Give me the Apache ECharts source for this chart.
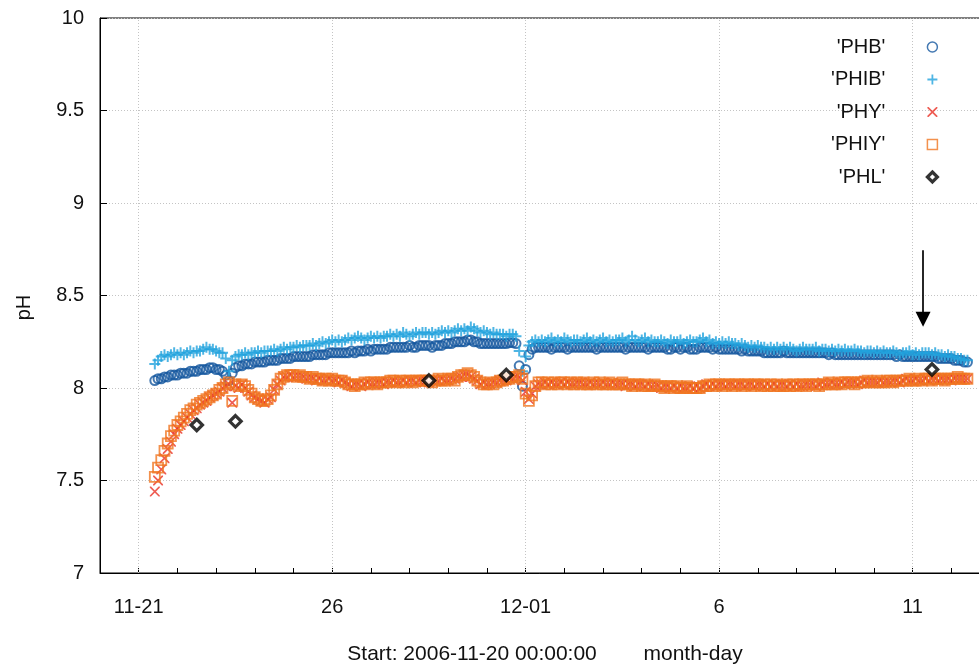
<!DOCTYPE html>
<html>
<head>
<meta charset="utf-8">
<script src="https://cdn.jsdelivr.net/npm/echarts@6/dist/echarts.min.js"></script>
<style>
  html, body { margin: 0; padding: 0; background: #fff; }
  #chart { width: 979px; height: 666px; }
</style>
</head>
<body>
<div id="chart"></div>
<script>
// pH readings, one every 2 hours starting 2006-11-21 10:00
// (x axis = days after 2006-11-20 00:00); one row per day
const SAMPLE_START_DAY = 1 + 10 / 24;
const SAMPLE_STEP_DAY = 1 / 12;

const phb = [
  8.04, 8.05, 8.05, 8.06, 8.06, 8.07, 8.07, 8.07, 8.08, 8.08, 8.08, 8.09,
  8.09, 8.09, 8.10, 8.10, 8.10, 8.11, 8.11, 8.10, 8.10, 8.09, 8.07, 8.04,
  8.08, 8.11, 8.12, 8.12, 8.13, 8.13, 8.13, 8.14, 8.14, 8.14, 8.14, 8.15,
  8.15, 8.15, 8.15, 8.16, 8.16, 8.16, 8.16, 8.17, 8.17, 8.17, 8.17, 8.17,
  8.17, 8.18, 8.18, 8.18, 8.18, 8.18, 8.19, 8.19, 8.19, 8.19, 8.19, 8.19,
  8.19, 8.20, 8.19, 8.20, 8.20, 8.20, 8.21, 8.20, 8.21, 8.21, 8.21, 8.21,
  8.21, 8.22, 8.22, 8.22, 8.22, 8.22, 8.22, 8.23, 8.22, 8.22, 8.23, 8.23,
  8.23, 8.23, 8.22, 8.23, 8.23, 8.23, 8.24, 8.24, 8.24, 8.25, 8.25, 8.25,
  8.25, 8.26, 8.26, 8.25, 8.25, 8.24, 8.24, 8.24, 8.24, 8.24, 8.24, 8.24,
  8.24, 8.24, 8.245, 8.245, 8.24, 8.12, 8.01, 8.10, 8.18, 8.21, 8.22, 8.22,
  8.22, 8.22, 8.22, 8.21, 8.22, 8.22, 8.22, 8.22, 8.21, 8.22, 8.22, 8.22,
  8.22, 8.22, 8.22, 8.22, 8.22, 8.21, 8.22, 8.22, 8.22, 8.22, 8.22, 8.22,
  8.22, 8.22, 8.21, 8.22, 8.22, 8.22, 8.22, 8.22, 8.22, 8.21, 8.22, 8.22,
  8.22, 8.22, 8.22, 8.21, 8.21, 8.22, 8.22, 8.21, 8.22, 8.22, 8.21, 8.21,
  8.21, 8.22, 8.22, 8.22, 8.22, 8.21, 8.22, 8.21, 8.21, 8.21, 8.21, 8.21,
  8.21, 8.21, 8.20, 8.21, 8.20, 8.20, 8.20, 8.20, 8.20, 8.19, 8.19, 8.19,
  8.19, 8.19, 8.19, 8.20, 8.19, 8.19, 8.19, 8.19, 8.19, 8.19, 8.19, 8.19,
  8.19, 8.19, 8.19, 8.19, 8.19, 8.18, 8.19, 8.18, 8.18, 8.18, 8.18, 8.18,
  8.18, 8.18, 8.18, 8.18, 8.18, 8.18, 8.18, 8.18, 8.18, 8.18, 8.18, 8.18,
  8.18, 8.18, 8.17, 8.18, 8.17, 8.17, 8.17, 8.17, 8.17, 8.17, 8.17, 8.17,
  8.17, 8.17, 8.17, 8.16, 8.16, 8.16, 8.16, 8.16, 8.15, 8.15, 8.15, 8.14,
  8.14
];

const phib = [
  8.13, 8.15, 8.17, 8.18, 8.17, 8.18, 8.19, 8.18, 8.19, 8.18, 8.19, 8.20,
  8.19, 8.20, 8.20, 8.21, 8.22, 8.21, 8.21, 8.20, 8.19, 8.19, 8.16, 8.09,
  8.15, 8.17, 8.18, 8.18, 8.19, 8.18, 8.19, 8.19, 8.20, 8.19, 8.20, 8.20,
  8.20, 8.21, 8.20, 8.21, 8.22, 8.21, 8.22, 8.22, 8.23, 8.22, 8.23, 8.23,
  8.23, 8.24, 8.23, 8.24, 8.25, 8.24, 8.25, 8.26, 8.25, 8.26, 8.25, 8.26,
  8.27, 8.26, 8.27, 8.28, 8.27, 8.26, 8.27, 8.28, 8.27, 8.28, 8.27, 8.28,
  8.28, 8.29, 8.28, 8.29, 8.28, 8.30, 8.29, 8.28, 8.29, 8.30, 8.29, 8.30,
  8.30, 8.29, 8.30, 8.29, 8.30, 8.31, 8.30, 8.31, 8.30, 8.31, 8.32, 8.31,
  8.32, 8.31, 8.33, 8.32, 8.31, 8.30, 8.31, 8.30, 8.29, 8.30, 8.29, 8.29,
  8.29, 8.28, 8.29, 8.29, 8.28, 8.20, 8.09, 8.17, 8.23, 8.25, 8.26, 8.25,
  8.26, 8.25, 8.26, 8.27, 8.25, 8.26, 8.25, 8.27, 8.26, 8.25, 8.26, 8.26,
  8.25, 8.26, 8.27, 8.25, 8.26, 8.25, 8.26, 8.27, 8.25, 8.26, 8.25, 8.26,
  8.26, 8.27, 8.25, 8.26, 8.28, 8.26, 8.25, 8.26, 8.27, 8.25, 8.26, 8.25,
  8.25, 8.26, 8.25, 8.24, 8.26, 8.25, 8.25, 8.26, 8.24, 8.25, 8.26, 8.25,
  8.25, 8.26, 8.27, 8.25, 8.26, 8.24, 8.25, 8.24, 8.25, 8.24, 8.25, 8.24,
  8.24, 8.23, 8.24, 8.23, 8.22, 8.23, 8.22, 8.23, 8.22, 8.22, 8.21, 8.22,
  8.21, 8.22, 8.21, 8.22, 8.21, 8.22, 8.21, 8.20, 8.21, 8.22, 8.21, 8.21,
  8.21, 8.22, 8.20, 8.21, 8.21, 8.20, 8.21, 8.20, 8.21, 8.20, 8.21, 8.20,
  8.20, 8.21, 8.20, 8.20, 8.19, 8.20, 8.20, 8.19, 8.20, 8.19, 8.20, 8.19,
  8.19, 8.20, 8.19, 8.18, 8.19, 8.19, 8.20, 8.18, 8.19, 8.18, 8.19, 8.19,
  8.19, 8.18, 8.19, 8.18, 8.18, 8.17, 8.18, 8.17, 8.17, 8.16, 8.16, 8.15,
  8.15
];

const phy = [
  7.44, 7.50, 7.56, 7.62, 7.67, 7.71, 7.75, 7.78, 7.80, 7.82, 7.84, 7.86,
  7.88, 7.89, 7.91, 7.92, 7.93, 7.95, 7.96, 7.97, 7.98, 8.00, 8.01, 8.02,
  7.92, 8.01, 8.00, 8.02, 8.00, 7.98, 7.96, 7.95, 7.94, 7.93, 7.92, 7.94,
  7.95, 7.99, 8.02, 8.04, 8.06, 8.06, 8.07, 8.06, 8.06, 8.06, 8.06, 8.05,
  8.05, 8.05, 8.04, 8.05, 8.04, 8.04, 8.05, 8.04, 8.04, 8.03, 8.04, 8.03,
  8.02, 8.01, 8.02, 8.02, 8.01, 8.02, 8.03, 8.02, 8.02, 8.03, 8.03, 8.02,
  8.03, 8.03, 8.04, 8.03, 8.03, 8.04, 8.03, 8.04, 8.04, 8.03, 8.04, 8.04,
  8.04, 8.03, 8.04, 8.04, 8.04, 8.05, 8.04, 8.04, 8.05, 8.05, 8.06, 8.06,
  8.07, 8.07, 8.06, 8.05, 8.04, 8.02, 8.03, 8.02, 8.02, 8.03, 8.03, 8.04,
  8.04, 8.04, 8.05, 8.05, 8.06, 8.06, 8.04, 7.98, 7.94, 7.97, 8.01, 8.02,
  8.02, 8.03, 8.02, 8.03, 8.02, 8.02, 8.03, 8.02, 8.03, 8.02, 8.02, 8.03,
  8.03, 8.02, 8.02, 8.03, 8.02, 8.02, 8.02, 8.03, 8.02, 8.02, 8.03, 8.02,
  8.02, 8.02, 8.01, 8.02, 8.02, 8.01, 8.02, 8.02, 8.01, 8.02, 8.01, 8.01,
  8.01, 8.00, 8.01, 8.01, 8.00, 8.01, 8.00, 8.01, 8.00, 8.00, 8.01, 8.00,
  8.01, 8.00, 8.01, 8.02, 8.01, 8.02, 8.01, 8.02, 8.02, 8.01, 8.02, 8.02,
  8.01, 8.02, 8.02, 8.01, 8.02, 8.02, 8.01, 8.02, 8.02, 8.01, 8.02, 8.01,
  8.02, 8.01, 8.02, 8.02, 8.01, 8.02, 8.01, 8.02, 8.01, 8.01, 8.02, 8.02,
  8.02, 8.01, 8.02, 8.03, 8.02, 8.02, 8.03, 8.02, 8.02, 8.03, 8.02, 8.03,
  8.03, 8.03, 8.02, 8.03, 8.04, 8.03, 8.03, 8.03, 8.03, 8.04, 8.03, 8.03,
  8.03, 8.04, 8.04, 8.03, 8.04, 8.05, 8.04, 8.04, 8.05, 8.04, 8.04, 8.05,
  8.04, 8.05, 8.05, 8.04, 8.05, 8.05, 8.05, 8.04, 8.05, 8.05, 8.05, 8.05,
  8.05
];

const phiy = [
  7.52, 7.57, 7.61, 7.66, 7.70, 7.74, 7.77, 7.80, 7.82, 7.84, 7.86, 7.88,
  7.89, 7.91, 7.92, 7.93, 7.94, 7.95, 7.96, 7.97, 7.99, 8.00, 8.02, 8.03,
  7.93, 8.02, 8.01, 8.02, 8.01, 7.99, 7.97, 7.95, 7.94, 7.93, 7.93, 7.94,
  7.96, 7.99, 8.02, 8.05, 8.06, 8.07, 8.07, 8.07, 8.06, 8.07, 8.06, 8.06,
  8.05, 8.06, 8.05, 8.05, 8.04, 8.05, 8.04, 8.05, 8.04, 8.04, 8.04, 8.03,
  8.02, 8.02, 8.01, 8.02, 8.02, 8.03, 8.02, 8.03, 8.03, 8.02, 8.03, 8.03,
  8.03, 8.04, 8.04, 8.03, 8.04, 8.03, 8.04, 8.04, 8.03, 8.04, 8.04, 8.04,
  8.04, 8.04, 8.03, 8.04, 8.05, 8.04, 8.04, 8.05, 8.05, 8.04, 8.06, 8.07,
  8.07, 8.08, 8.07, 8.06, 8.04, 8.03, 8.02, 8.02, 8.03, 8.02, 8.03, 8.04,
  8.04, 8.05, 8.05, 8.06, 8.06, 8.07, 8.05, 7.97, 7.93, 7.96, 8.01, 8.03,
  8.03, 8.02, 8.03, 8.02, 8.03, 8.02, 8.03, 8.03, 8.02, 8.03, 8.02, 8.03,
  8.02, 8.03, 8.02, 8.02, 8.03, 8.02, 8.03, 8.02, 8.02, 8.03, 8.02, 8.02,
  8.02, 8.03, 8.02, 8.02, 8.01, 8.02, 8.02, 8.01, 8.02, 8.01, 8.01, 8.02,
  8.01, 8.01, 8.00, 8.01, 8.01, 8.00, 8.01, 8.00, 8.00, 8.01, 8.00, 8.00,
  8.00, 8.00, 8.01, 8.01, 8.02, 8.01, 8.02, 8.02, 8.01, 8.02, 8.02, 8.01,
  8.02, 8.02, 8.01, 8.02, 8.02, 8.01, 8.02, 8.02, 8.01, 8.02, 8.01, 8.02,
  8.01, 8.02, 8.01, 8.01, 8.02, 8.01, 8.02, 8.01, 8.02, 8.02, 8.01, 8.02,
  8.02, 8.02, 8.01, 8.02, 8.02, 8.03, 8.02, 8.02, 8.03, 8.02, 8.03, 8.03,
  8.03, 8.02, 8.03, 8.03, 8.03, 8.04, 8.03, 8.03, 8.04, 8.03, 8.03, 8.04,
  8.04, 8.03, 8.04, 8.04, 8.04, 8.04, 8.05, 8.04, 8.04, 8.05, 8.04, 8.05,
  8.05, 8.04, 8.05, 8.05, 8.05, 8.04, 8.05, 8.05, 8.05, 8.06, 8.05, 8.05,
  8.05
];

// Lab reference measurements (taken at noon)
const phlDays = [2.5, 3.5, 8.5, 10.5, 21.5];
const phl = [7.80, 7.82, 8.04, 8.07, 8.10];

// Labelled days on the x axis (days after 2006-11-20)
const tickDays = [1, 6, 11, 16, 21];
const tickLabels = ['11-21', '26', '12-01', '6', '11'];

// Marker arrow (day, from pH, to pH)
const arrowDay = 21.27;
const arrowFromPh = 8.745;
const arrowToPh = 8.372;

const sampleDays = phb.map((_, i) => SAMPLE_START_DAY + i * SAMPLE_STEP_DAY);
const pairs = (xs, ys) => ys.map((y, i) => [xs[i], y]);

const FONT = 'Liberation Sans, Arial, Helvetica, sans-serif';
const C_PHB = '#15589f';
const C_PHIB = '#22a2dd';
const C_PHY = '#ea3328';
const C_PHIY = '#f07520';

const PLUS = 'path://M0,4.1H10V5.9H0Z M4.1,0H5.9V10H4.1Z';
const CROSS = 'path://M0,0H1.2L10,8.8V10H8.8L0,1.2Z M8.8,0H10V1.2L1.2,10H0V8.8Z';

const chart = echarts.init(document.getElementById('chart'), null, { renderer: 'canvas' });

chart.setOption({
  animation: false,
  backgroundColor: '#fff',
  textStyle: { fontFamily: FONT },
  grid: {
    left: 100, top: 18, width: 890, height: 555,
    containLabel: false,
    outerBoundsMode: 'none',
    show: true, borderColor: '#000', borderWidth: 1, backgroundColor: 'transparent'
  },
  legend: {
    orient: 'vertical',
    align: 'right',
    right: 40,
    top: 37,
    padding: 0,
    itemGap: 12.5,
    itemWidth: 10,
    itemHeight: 10,
    selectedMode: false,
    formatter: (name) => name + '{g| }',
    textStyle: {
      fontFamily: FONT, fontSize: 20, color: '#111',
      rich: { g: { width: 37, fontSize: 20 } }
    },
    data: [
      { name: "'PHB'", itemStyle: { borderWidth: 1.5 } },
      { name: "'PHIB'" },
      { name: "'PHY'" },
      { name: "'PHIY'", itemStyle: { borderWidth: 1.5 } },
      { name: "'PHL'", itemStyle: { borderWidth: 3.2 } }
    ]
  },
  xAxis: {
    type: 'value',
    min: 0,
    max: 23,
    interval: 1,
    name: 'Start: 2006-11-20 00:00:00        month-day',
    nameLocation: 'middle',
    nameGap: 71,
    nameTextStyle: { fontFamily: FONT, fontSize: 21, color: '#111' },
    axisLine: { show: true, lineStyle: { color: '#000', width: 1 } },
    axisTick: { show: true, inside: true, length: 5, lineStyle: { color: '#000', width: 1 } },
    axisLabel: {
      fontFamily: FONT, fontSize: 20, color: '#111', margin: 24,
      formatter: (v) => {
        const k = tickDays.indexOf(Math.round(v * 1000) / 1000);
        return k >= 0 ? tickLabels[k] : '';
      }
    },
    splitLine: { show: false }
  },
  yAxis: {
    type: 'value',
    min: 7,
    max: 10,
    interval: 0.5,
    name: 'pH',
    nameLocation: 'middle',
    nameRotate: 90,
    nameGap: 66,
    nameTextStyle: { fontFamily: FONT, fontSize: 20, color: '#111', padding: [0, 24, 0, 0] },
    axisLine: { show: true, lineStyle: { color: '#000', width: 1 } },
    axisTick: { show: true, inside: true, length: 7, lineStyle: { color: '#000', width: 1 } },
    axisLabel: { fontFamily: FONT, fontSize: 20, color: '#111', margin: 16 },
    splitLine: { show: true, lineStyle: { color: '#c4c4c4', width: 1, type: [1, 2] } }
  },
  series: [
    {
      name: "'PHB'",
      type: 'scatter',
      symbol: 'circle',
      symbolSize: 9,
      itemStyle: { color: 'transparent', borderColor: C_PHB, borderWidth: 2 },
      data: pairs(sampleDays, phb),
      markLine: {
        silent: true,
        z: 1,
        symbol: ['none', 'none'],
        label: { show: false },
        lineStyle: { color: '#c4c4c4', width: 1, type: [1, 2] },
        data: tickDays.map((d) => ({ xAxis: d }))
      }
    },
    {
      name: "'PHIB'",
      type: 'scatter',
      symbol: PLUS,
      symbolSize: 11,
      itemStyle: { color: C_PHIB },
      data: pairs(sampleDays, phib)
    },
    {
      name: "'PHY'",
      type: 'scatter',
      symbol: CROSS,
      symbolSize: 10,
      itemStyle: { color: C_PHY },
      data: pairs(sampleDays, phy)
    },
    {
      name: "'PHIY'",
      type: 'scatter',
      symbol: 'rect',
      symbolSize: 10,
      itemStyle: { color: 'transparent', borderColor: C_PHIY, borderWidth: 1.8 },
      data: pairs(sampleDays, phiy)
    },
    {
      name: "'PHL'",
      type: 'scatter',
      symbol: 'diamond',
      symbolSize: 11.5,
      itemStyle: { color: '#fff', borderColor: '#000', borderWidth: 3.2 },
      data: pairs(phlDays, phl),
      markLine: {
        silent: true,
        symbol: ['none', 'triangle'],
        symbolSize: [15, 15],
        label: { show: false },
        lineStyle: { color: '#000', width: 1.7, type: 'solid' },
        itemStyle: { color: '#000' },
        data: [[{ coord: [arrowDay, arrowFromPh] }, { coord: [arrowDay, arrowToPh] }]]
      }
    }
  ]
});
</script>
</body>
</html>
